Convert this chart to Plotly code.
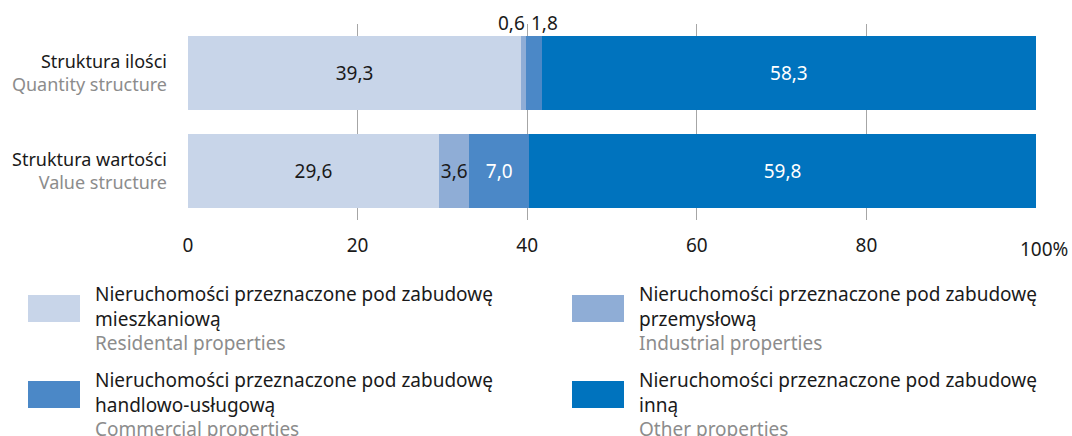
import plotly.graph_objects as go

# Chart data
categories = ["Struktura ilości", "Struktura wartości"]
categories_en = ["Quantity structure", "Value structure"]

series_pl = [
    "Nieruchomości przeznaczone pod zabudowę<br>mieszkaniową",
    "Nieruchomości przeznaczone pod zabudowę<br>przemysłową",
    "Nieruchomości przeznaczone pod zabudowę<br>handlowo-usługową",
    "Nieruchomości przeznaczone pod zabudowę<br>inną",
]
series_en = [
    "Residental properties",
    "Industrial properties",
    "Commercial properties",
    "Other properties",
]
residential = [39.3, 29.6]
industrial = [0.6, 3.6]
commercial = [1.8, 7.0]
other = [58.3, 59.8]

x_ticks = [0, 20, 40, 60, 80, 100]
x_ticklabels = ["0", "20", "40", "60", "80", ""]

colors = ["#C8D5E9", "#8FADD6", "#4B88C7", "#0073BE"]
text_colors = ["#1a1a1a", "#1a1a1a", "#ffffff", "#ffffff"]
GREY = "#8c8c8c"
FONT = "Noto Sans"
FS = 19

W_PX, H_PX = 1072, 436
L, R, T, B = 187, 35, 24, 216
PW, PH = W_PX - L - R, H_PX - T - B


def px_x(p):
    return (p - L) / PW


def px_y(p):
    return (T + PH - p) / PH


def fmt(v):
    return f"{v:.1f}".replace(".", ",")


y_labels = [f"{pl}<br><span style='color:{GREY}'>{en}</span>"
            for pl, en in zip(categories, categories_en)]

values = [residential, industrial, commercial, other]
fig = go.Figure()
for i, vals in enumerate(values):
    # thin segments get their labels above the bar instead of inside
    texts = ["" if v < 2 else fmt(v) for v in vals]
    fig.add_trace(go.Bar(
        y=y_labels, x=vals, orientation="h",
        marker=dict(color=colors[i], line=dict(width=0)),
        text=texts, textposition="inside", insidetextanchor="middle",
        textangle=0,
        textfont=dict(color=text_colors[i], size=FS, family=FONT),
        constraintext="none",
        showlegend=False, hoverinfo="skip",
    ))

annotations = []
# labels for the two thin segments of the top bar
start_com = residential[0] + industrial[0]
annotations.append(dict(
    x=start_com, y=y_labels[0], xref="x", yref="y",
    text=fmt(industrial[0]),
    xanchor="right", yanchor="bottom", yshift=35, xshift=1,
    showarrow=False, font=dict(size=FS, family=FONT, color="#1a1a1a")))
annotations.append(dict(
    x=start_com, y=y_labels[0], xref="x", yref="y",
    text=fmt(commercial[0]),
    xanchor="left", yanchor="bottom", yshift=35, xshift=3,
    showarrow=False, font=dict(size=FS, family=FONT, color="#1a1a1a")))

# "100%" end label
annotations.append(dict(
    x=100, y=0, xref="x", yref="paper", text="100%",
    xanchor="center", yanchor="top", xshift=8, yshift=-14,
    showarrow=False, font=dict(size=FS, family=FONT, color="#1a1a1a")))

# custom legend: colour boxes with two-language labels
shapes = []
legend_pos = [(28, 295), (572, 295), (28, 381), (572, 381)]
for i, (x0, y0) in enumerate(legend_pos):
    shapes.append(dict(
        type="rect", xref="paper", yref="paper",
        x0=px_x(x0), x1=px_x(x0 + 52), y0=px_y(y0), y1=px_y(y0 + 27),
        fillcolor=colors[i], line=dict(width=0)))
    annotations.append(dict(
        x=px_x(x0 + 65), y=px_y(y0 - 16), xref="paper", yref="paper",
        text=f"{series_pl[i]}<br><span style='color:{GREY}'>{series_en[i]}</span>",
        xanchor="left", yanchor="top", align="left", showarrow=False,
        font=dict(size=FS, family=FONT, color="#1a1a1a")))

fig.update_layout(
    barmode="stack",
    bargap=0.235,
    width=W_PX, height=H_PX,
    margin=dict(l=L, r=R, t=T, b=B, pad=0, autoexpand=False),
    paper_bgcolor="white", plot_bgcolor="white",
    font=dict(family=FONT, size=FS, color="#1a1a1a"),
    xaxis=dict(
        range=[-0.1, 100.1], tickvals=x_ticks, ticktext=x_ticklabels,
        showgrid=True, gridcolor="#a6a6a6", gridwidth=1,
        zeroline=False, showline=False, ticks="",
        tickfont=dict(size=FS, family=FONT, color="#1a1a1a"),
        ticklabelstandoff=12, fixedrange=True, automargin=False,
    ),
    yaxis=dict(
        autorange="reversed", showgrid=False, zeroline=False,
        ticks="", ticklabelstandoff=19,
        tickfont=dict(size=18, family=FONT, color="#1a1a1a"),
        fixedrange=True, automargin=False,
    ),
    shapes=shapes,
    annotations=annotations,
)

fig.write_html("out.html")
